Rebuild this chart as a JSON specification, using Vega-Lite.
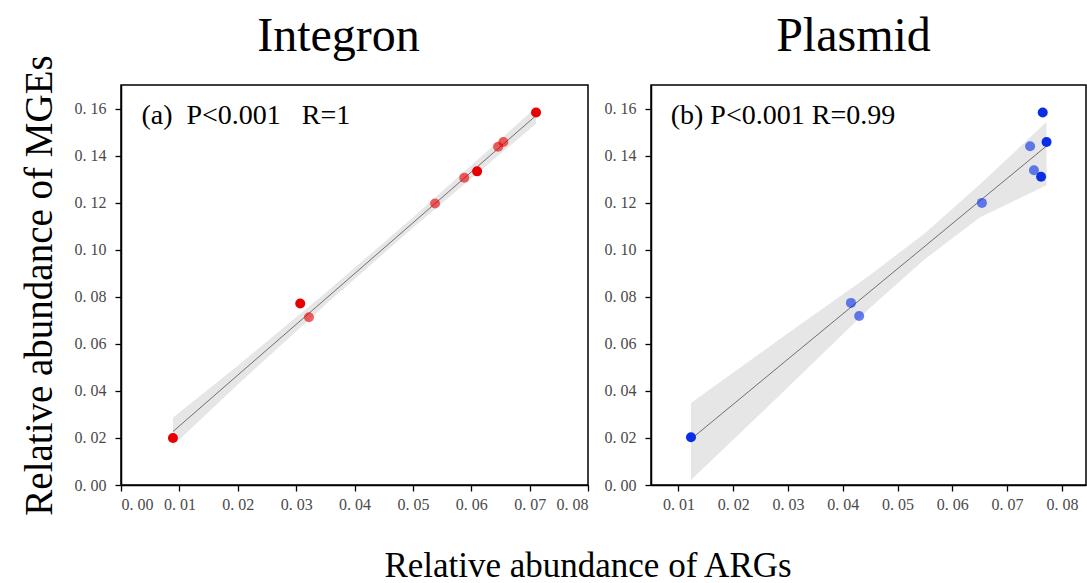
{
  "$schema": "https://vega.github.io/schema/vega-lite/v6.json",
  "background": "white",
  "padding": {"left": 19, "top": 12, "right": 0, "bottom": 0},
  "datasets": {
    "integron_pts": [
      {"arg": 0.0089, "mge": 0.0200, "n": 2},
      {"arg": 0.0307, "mge": 0.0771, "n": 2},
      {"arg": 0.0322, "mge": 0.0713, "n": 1},
      {"arg": 0.0538, "mge": 0.1196, "n": 1},
      {"arg": 0.0588, "mge": 0.1306, "n": 1},
      {"arg": 0.0610, "mge": 0.1333, "n": 2},
      {"arg": 0.0646, "mge": 0.1438, "n": 1},
      {"arg": 0.0655, "mge": 0.1458, "n": 1},
      {"arg": 0.0711, "mge": 0.1583, "n": 2}
    ],
    "integron_fit": [
      {"arg": 0.0089, "fit": 0.0227, "lo": 0.0167, "hi": 0.0287},
      {"arg": 0.0200, "fit": 0.0467, "lo": 0.0427, "hi": 0.0507},
      {"arg": 0.0350, "fit": 0.0790, "lo": 0.0766, "hi": 0.0816},
      {"arg": 0.0500, "fit": 0.1114, "lo": 0.1093, "hi": 0.1137},
      {"arg": 0.0711, "fit": 0.1570, "lo": 0.1535, "hi": 0.1605}
    ],
    "plasmid_pts": [
      {"arg": 0.0123, "mge": 0.0203, "n": 2},
      {"arg": 0.0415, "mge": 0.0774, "n": 1},
      {"arg": 0.0430, "mge": 0.0718, "n": 1},
      {"arg": 0.0654, "mge": 0.1199, "n": 1},
      {"arg": 0.0742, "mge": 0.1440, "n": 1},
      {"arg": 0.0749, "mge": 0.1338, "n": 1},
      {"arg": 0.0762, "mge": 0.1310, "n": 2},
      {"arg": 0.0765, "mge": 0.1583, "n": 2},
      {"arg": 0.0772, "mge": 0.1458, "n": 2}
    ],
    "plasmid_fit": [
      {"arg": 0.0123, "fit": 0.0195, "lo": 0.0021, "hi": 0.0348},
      {"arg": 0.0300, "fit": 0.0535, "lo": 0.0415, "hi": 0.0645},
      {"arg": 0.0450, "fit": 0.0823, "lo": 0.0753, "hi": 0.0893},
      {"arg": 0.0550, "fit": 0.1015, "lo": 0.0960, "hi": 0.1070},
      {"arg": 0.0650, "fit": 0.1207, "lo": 0.1137, "hi": 0.1277},
      {"arg": 0.0772, "fit": 0.1441, "lo": 0.1274, "hi": 0.1543}
    ],
    "labels": [
      {"panel": "a", "arg": 0.0035, "mge": 0.157, "txt": "(a)\u00a0 P<0.001\u00a0\u00a0\u00a0R=1"},
      {"panel": "b", "arg": 0.0086, "mge": 0.157, "txt": "(b) P<0.001 R=0.99"}
    ]
  },
  "title": {
    "text": "Relative abundance of ARGs",
    "orient": "bottom",
    "anchor": "middle",
    "font": "Liberation Serif",
    "fontSize": 35,
    "fontWeight": "normal",
    "color": "black",
    "offset": 33,
    "dx": 35
  },
  "spacing": 13,
  "config": {
    "view": {"stroke": "black", "strokeWidth": 1.5},
    "axis": {
      "grid": false,
      "labelFont": "Liberation Serif",
      "labelFontSize": 16,
      "labelColor": "#4a4a4a",
      "domainColor": "black",
      "domainWidth": 1.5,
      "tickColor": "black",
      "tickWidth": 1.3
    },
    "axisX": {"labelPadding": 5},
    "axisY": {"labelPadding": 9},
    "title": {"font": "Liberation Serif", "fontSize": 48, "fontWeight": "normal", "color": "black", "offset": 24}
  },
  "hconcat": [
    {
      "width": 467,
      "height": 400,
      "title": {"text": "Integron", "dx": -16, "dy": 30},
      "layer": [
        {
          "data": {"name": "integron_fit"},
          "mark": {"type": "area", "color": "#e6e6e6"},
          "encoding": {
            "x": {"field": "arg", "type": "quantitative", "scale": {"domain": [0, 0.08], "nice": false},
              "axis": {"title": null,
                "values": [0, 0.005, 0.01, 0.015, 0.02, 0.025, 0.03, 0.035, 0.04, 0.045, 0.05, 0.055, 0.06, 0.065, 0.07, 0.075, 0.08],
                "labelExpr": "abs(datum.value*100 - round(datum.value*100)) < 0.001 ? replace(format(datum.value, '.2f'), '.', '. ') : ''",
                "tickSize": {"condition": {"test": "abs(datum.value*100 - round(datum.value*100)) < 0.001", "value": 6}, "value": 3}}},
            "y": {"field": "lo", "type": "quantitative", "scale": {"domain": [0, 0.17], "nice": false},
              "axis": {"title": "Relative abundance of MGEs", "titleFont": "Liberation Serif", "titleFontSize": 39, "titleFontWeight": "normal", "titleColor": "black", "titlePadding": 15,
                "values": [0, 0.01, 0.02, 0.03, 0.04, 0.05, 0.06, 0.07, 0.08, 0.09, 0.1, 0.11, 0.12, 0.13, 0.14, 0.15, 0.16],
                "labelExpr": "abs(datum.value*50 - round(datum.value*50)) < 0.001 ? replace(format(datum.value, '.2f'), '.', '. ') : ''",
                "tickSize": {"condition": {"test": "abs(datum.value*50 - round(datum.value*50)) < 0.001", "value": 6}, "value": 3}}},
            "y2": {"field": "hi"}
          }
        },
        {
          "data": {"name": "integron_fit"},
          "mark": {"type": "line", "color": "#6f6f6f", "strokeWidth": 1},
          "encoding": {
            "x": {"field": "arg", "type": "quantitative"},
            "y": {"field": "fit", "type": "quantitative"}
          }
        },
        {
          "data": {"name": "integron_pts"},
          "mark": {"type": "circle", "color": "#e80000", "size": 100},
          "encoding": {
            "x": {"field": "arg", "type": "quantitative"},
            "y": {"field": "mge", "type": "quantitative"},
            "opacity": {"field": "n", "type": "quantitative", "scale": {"domain": [1, 2], "range": [0.62, 1]}, "legend": null}
          }
        },
        {
          "data": {"name": "labels"},
          "transform": [{"filter": "datum.panel == 'a'"}],
          "mark": {"type": "text", "align": "left", "baseline": "middle", "font": "Liberation Serif", "fontSize": 28, "color": "black"},
          "encoding": {
            "x": {"field": "arg", "type": "quantitative"},
            "y": {"field": "mge", "type": "quantitative"},
            "text": {"field": "txt"}
          }
        }
      ]
    },
    {
      "width": 435,
      "height": 400,
      "title": {"text": "Plasmid", "dx": -15},
      "layer": [
        {
          "data": {"name": "plasmid_fit"},
          "mark": {"type": "area", "color": "#e6e6e6"},
          "encoding": {
            "x": {"field": "arg", "type": "quantitative", "scale": {"domain": [0.005, 0.0844], "nice": false, "zero": false},
              "axis": {"title": null,
                "values": [0.01, 0.015, 0.02, 0.025, 0.03, 0.035, 0.04, 0.045, 0.05, 0.055, 0.06, 0.065, 0.07, 0.075, 0.08],
                "labelExpr": "abs(datum.value*100 - round(datum.value*100)) < 0.001 ? replace(format(datum.value, '.2f'), '.', '. ') : ''",
                "tickSize": {"condition": {"test": "abs(datum.value*100 - round(datum.value*100)) < 0.001", "value": 6}, "value": 3}}},
            "y": {"field": "lo", "type": "quantitative", "scale": {"domain": [0, 0.17], "nice": false},
              "axis": {"title": null,
                "values": [0, 0.01, 0.02, 0.03, 0.04, 0.05, 0.06, 0.07, 0.08, 0.09, 0.1, 0.11, 0.12, 0.13, 0.14, 0.15, 0.16],
                "labelExpr": "abs(datum.value*50 - round(datum.value*50)) < 0.001 ? replace(format(datum.value, '.2f'), '.', '. ') : ''",
                "tickSize": {"condition": {"test": "abs(datum.value*50 - round(datum.value*50)) < 0.001", "value": 6}, "value": 3}}},
            "y2": {"field": "hi"}
          }
        },
        {
          "data": {"name": "plasmid_fit"},
          "mark": {"type": "line", "color": "#6f6f6f", "strokeWidth": 1},
          "encoding": {
            "x": {"field": "arg", "type": "quantitative"},
            "y": {"field": "fit", "type": "quantitative"}
          }
        },
        {
          "data": {"name": "plasmid_pts"},
          "mark": {"type": "circle", "color": "#0a2ee6", "size": 100},
          "encoding": {
            "x": {"field": "arg", "type": "quantitative"},
            "y": {"field": "mge", "type": "quantitative"},
            "opacity": {"field": "n", "type": "quantitative", "scale": {"domain": [1, 2], "range": [0.55, 1]}, "legend": null}
          }
        },
        {
          "data": {"name": "labels"},
          "transform": [{"filter": "datum.panel == 'b'"}],
          "mark": {"type": "text", "align": "left", "baseline": "middle", "font": "Liberation Serif", "fontSize": 28, "color": "black"},
          "encoding": {
            "x": {"field": "arg", "type": "quantitative"},
            "y": {"field": "mge", "type": "quantitative"},
            "text": {"field": "txt"}
          }
        }
      ]
    }
  ]
}
